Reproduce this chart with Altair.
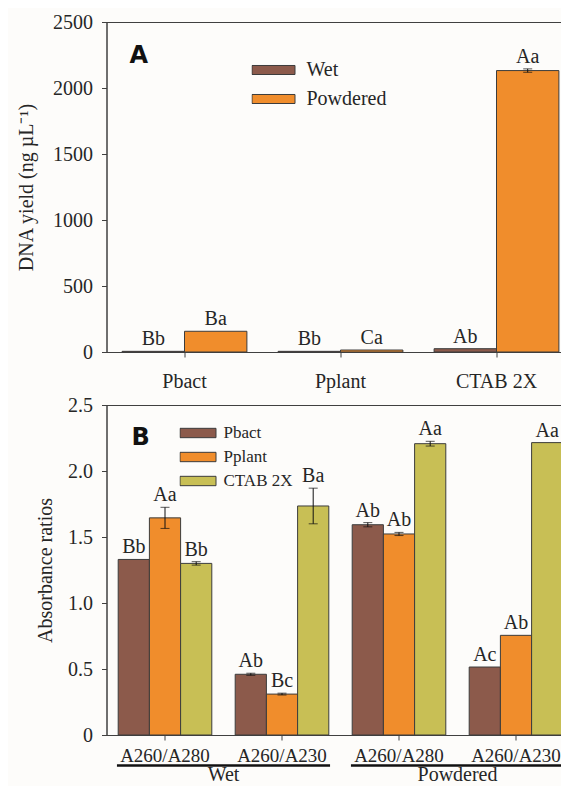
import altair as alt
import pandas as pd

SERIF = "Liberation Serif"
BROWN = "#8C5A4B"
ORANGE = "#F08D2C"
OLIVE = "#C8BF55"
EDGE = "#3c3c3c"
AXIS = "#404040"
TEXT = "#262626"

# ---------------- Panel A data ----------------
a_methods = ["Pbact", "Pplant", "CTAB 2X"]
a_states = ["Wet", "Powdered"]
a_wet = [5, 5, 25]
a_powdered = [157, 15, 2132]
a_wet_err = [0, 0, 0]
a_powdered_err = [0, 0, 13]
a_wet_letters = ["Bb", "Bb", "Ab"]
a_powdered_letters = ["Ba", "Ca", "Aa"]
a_ticks = [0, 500, 1000, 1500, 2000, 2500]

# ---------------- Panel B data ----------------
b_groups = ["Wet", "Powdered"]
b_ratios = ["A260/A280", "A260/A230"]
b_methods = ["Pbact", "Pplant", "CTAB 2X"]
b_pbact = [1.33, 0.46, 1.593, 0.515]
b_pplant = [1.645, 0.31, 1.523, 0.755]
b_ctab = [1.30, 1.735, 2.207, 2.215]
b_pbact_err = [0, 0.008, 0.016, 0]
b_pplant_err = [0.08, 0.007, 0.012, 0]
b_ctab_err = [0.013, 0.135, 0.018, 0]
b_pbact_letters = ["Bb", "Ab", "Ab", "Ac"]
b_pplant_letters = ["Aa", "Bc", "Ab", "Ab"]
b_ctab_letters = ["Bb", "Ba", "Aa", "Aa"]
b_ticks = [0, 0.5, 1.0, 1.5, 2.0, 2.5]

# ---------------- tables ----------------
rows = []
for i, m in enumerate(a_methods):
    for state, vals, errs, lets in (("Wet", a_wet, a_wet_err, a_wet_letters),
                                    ("Powdered", a_powdered, a_powdered_err, a_powdered_letters)):
        rows.append({"method": m, "state": state, "value": vals[i], "err": errs[i], "letter": lets[i]})
df_a = pd.DataFrame(rows)
df_a["lo"] = df_a["value"] - df_a["err"]
df_a["hi"] = df_a["value"] + df_a["err"]

b_keys = [g + "|" + r for g in b_groups for r in b_ratios]
rows = []
for i, k in enumerate(b_keys):
    for m, vals, errs, lets in (("Pbact", b_pbact, b_pbact_err, b_pbact_letters),
                                ("Pplant", b_pplant, b_pplant_err, b_pplant_letters),
                                ("CTAB 2X", b_ctab, b_ctab_err, b_ctab_letters)):
        rows.append({"key": k, "method": m, "value": vals[i], "err": errs[i], "letter": lets[i]})
df_b = pd.DataFrame(rows)
df_b["lo"] = df_b["value"] - df_b["err"]
df_b["hi"] = df_b["value"] + df_b["err"]

df_groups = pd.DataFrame({
    "group": b_groups,
    "start": [b_keys[0], b_keys[2]],
    "end": [b_keys[1], b_keys[3]],
})

W, H = 463, 330

# ---------------- Panel A ----------------
xa_scale = alt.Scale(domain=a_methods, range=[0, 468], paddingInner=0.2, paddingOuter=0.1)
xa = alt.X("method:N", scale=xa_scale,
           axis=alt.Axis(title=None, labelAngle=0, labelFont=SERIF, labelFontSize=20, labelColor=TEXT,
                         labelPadding=14, tickSize=5, tickColor=AXIS, domain=False))
xoa = alt.XOffset("state:N", scale=alt.Scale(domain=a_states, paddingInner=0, paddingOuter=0))
ya_scale = alt.Scale(domain=[0, 2500], nice=False)

base_a = alt.Chart(df_a)
bars_a = base_a.mark_bar(stroke=EDGE, strokeWidth=1).encode(
    x=xa, xOffset=xoa,
    y=alt.Y("value:Q", scale=ya_scale,
            axis=alt.Axis(values=a_ticks, format="d", title="DNA yield (ng µL⁻¹)", titleFont=SERIF,
                          titleFontSize=20, titleFontWeight="normal", titleColor=TEXT, titlePadding=16,
                          labelFont=SERIF, labelFontSize=20, labelColor=TEXT, labelPadding=9,
                          tickSize=5, tickColor=AXIS, domainColor=AXIS, grid=False)),
    color=alt.Color("state:N", scale=alt.Scale(domain=a_states, range=[BROWN, ORANGE]),
                    legend=alt.Legend(title=None, orient="none", legendX=145, legendY=38,
                                      symbolType="M-1,-0.21H1V0.21H-1Z", symbolSize=1849,
                                      symbolStrokeColor=EDGE, symbolStrokeWidth=1, clipHeight=20,
                                      labelFont=SERIF, labelFontSize=20, labelColor=TEXT,
                                      labelOffset=11, rowPadding=9, padding=0)),
)
err_a = base_a.transform_filter("datum.err > 0")
rule_a = err_a.mark_rule(color="#111", strokeWidth=1).encode(x=xa, xOffset=xoa, y="lo:Q", y2="hi:Q")
caplo_a = err_a.mark_tick(color="#111", size=9, thickness=1).encode(x=xa, xOffset=xoa, y="lo:Q")
caphi_a = err_a.mark_tick(color="#111", size=9, thickness=1).encode(x=xa, xOffset=xoa, y="hi:Q")
text_a = base_a.mark_text(font=SERIF, fontSize=20, baseline="alphabetic", dy=-6, color=TEXT).encode(
    x=xa, xOffset=xoa, y="hi:Q", text="letter:N")
tag_a = alt.Chart(pd.DataFrame({"t": ["A"]})).mark_text(
    font="DejaVu Sans", fontWeight="bold", fontSize=24, align="left", baseline="alphabetic", color="#111"
).encode(text="t:N", x=alt.value(23), y=alt.value(41))

chart_a = alt.layer(bars_a, rule_a, caplo_a, caphi_a, text_a, tag_a).properties(width=W, height=H)

# ---------------- Panel B ----------------
xb_scale = alt.Scale(domain=b_keys, range=[0, 468], paddingInner=0.2, paddingOuter=0.1)
xb = alt.X("key:N", scale=xb_scale,
           axis=alt.Axis(title=None, labelAngle=0, labelFont=SERIF, labelFontSize=19, labelColor=TEXT,
                         labelExpr="split(datum.label, '|')[1]",
                         labelPadding=6, tickSize=5, tickColor=AXIS, domain=False))
xob = alt.XOffset("method:N", scale=alt.Scale(domain=b_methods, paddingInner=0, paddingOuter=0))
yb_scale = alt.Scale(domain=[0, 2.5], nice=False)

base_b = alt.Chart(df_b)
bars_b = base_b.mark_bar(stroke=EDGE, strokeWidth=1).encode(
    x=xb, xOffset=xob,
    y=alt.Y("value:Q", scale=yb_scale,
            axis=alt.Axis(values=b_ticks, title="Absorbance ratios", titleFont=SERIF, titleFontSize=20,
                          titleFontWeight="normal", titleColor=TEXT, titlePadding=12,
                          labelExpr="datum.value == 0 ? '0' : format(datum.value, '.1f')",
                          labelFont=SERIF, labelFontSize=20, labelColor=TEXT, labelPadding=9,
                          tickSize=5, tickColor=AXIS, domainColor=AXIS, grid=False)),
    color=alt.Color("method:N", scale=alt.Scale(domain=b_methods, range=[BROWN, ORANGE, OLIVE]),
                    legend=alt.Legend(title=None, orient="none", legendX=73, legendY=19,
                                      symbolType="M-1,-0.26H1V0.26H-1Z", symbolSize=1296,
                                      symbolStrokeColor=EDGE, symbolStrokeWidth=1, clipHeight=18,
                                      labelFont=SERIF, labelFontSize=17, labelColor=TEXT,
                                      labelOffset=7, rowPadding=6, padding=0)),
)
err_b = base_b.transform_filter("datum.err > 0")
rule_b = err_b.mark_rule(color="#111", strokeWidth=1).encode(x=xb, xOffset=xob, y="lo:Q", y2="hi:Q")
caplo_b = err_b.mark_tick(color="#111", size=9, thickness=1).encode(x=xb, xOffset=xob, y="lo:Q")
caphi_b = err_b.mark_tick(color="#111", size=9, thickness=1).encode(x=xb, xOffset=xob, y="hi:Q")
text_b = base_b.mark_text(font=SERIF, fontSize=20, baseline="alphabetic", dy=-6, color=TEXT).encode(
    x=xb, xOffset=xob, y="hi:Q", text="letter:N")

grp = alt.Chart(df_groups)
underline = grp.mark_rule(color="#111", strokeWidth=2.5, strokeCap="square").encode(
    x=alt.X("start:N", scale=xb_scale, bandPosition=0),
    x2=alt.X2("end:N", bandPosition=1),
    y=alt.value(360.5),
)
grp_text = grp.mark_text(font=SERIF, fontSize=20, baseline="alphabetic", color=TEXT, dx=11.7).encode(
    x=alt.X("start:N", scale=xb_scale, bandPosition=1),
    text="group:N",
    y=alt.value(376),
)
tag_b = alt.Chart(pd.DataFrame({"t": ["B"]})).mark_text(
    font="DejaVu Sans", fontWeight="bold", fontSize=24, align="left", baseline="alphabetic", color="#111"
).encode(text="t:N", x=alt.value(25), y=alt.value(40))

chart_b = alt.layer(bars_b, rule_b, caplo_b, caphi_b, text_b, underline, grp_text, tag_b).properties(
    width=W, height=H)

chart = alt.vconcat(chart_a, chart_b, spacing=53, bounds="flush",
                    padding={"left": 7.5, "top": 3, "right": -15, "bottom": 0},
                    background="#fdfcfa").resolve_scale(
    color="independent", x="independent", y="independent", xOffset="independent"
).configure_view(stroke=AXIS, strokeWidth=1)

chart.save("out.html", embed_options={"renderer": "svg", "actions": False})
